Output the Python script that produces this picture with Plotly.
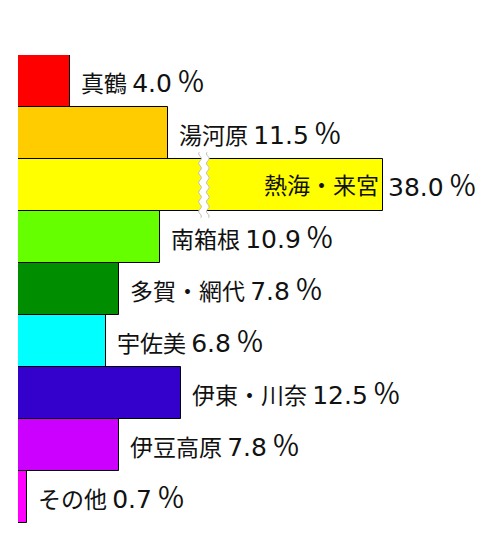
import numpy as np
import plotly.graph_objects as go

names = ["真鶴", "湯河原", "熱海・来宮", "南箱根", "多賀・網代", "宇佐美", "伊東・川奈", "伊豆高原", "その他"]
values = [4.0, 11.5, 38.0, 10.9, 7.8, 6.8, 12.5, 7.8, 0.7]
colors = ["#FF0000", "#FFCC00", "#FFFF00", "#66FF00", "#008E00", "#00FFFF", "#3300CC", "#CC00FF", "#FF00FF"]

# axis break (values beyond threshold are compressed by break_gap)
break_start = 14.3
break_gap = 9.9
break_threshold = 30.0

W, H = 500, 560
body = 8  # page body margin offset
ml, mr, mt, mb = 18 - body, 0, 55 - body, 37 + body
px_per_unit = 13.0
xmax = (W - ml - mr) / px_per_unit

display = [v - break_gap if v > break_threshold else v for v in values]
idx = list(range(len(values)))

fig = go.Figure()
fig.add_trace(go.Bar(
    x=display, y=idx, orientation="h",
    marker=dict(color=colors, line=dict(color="black", width=1)),
    width=1.0, hoverinfo="skip", showlegend=False,
))

font = dict(family="Noto Sans CJK JP", size=23, color="#111111")


def pct(v):
    return (f'<span style="font-family:DejaVu Sans;font-size:25px">{v:.1f}\u2009</span>'
            f'<span style="font-family:Noto Sans CJK JP;font-size:28px">％</span>')


for i, (n, v, d) in enumerate(zip(names, values, display)):
    if v > break_threshold:
        fig.add_annotation(x=d, y=i, text=n, showarrow=False, xanchor="right",
                           xshift=-2, yshift=1, font=font)
        fig.add_annotation(x=d, y=i, text=pct(v), showarrow=False, xanchor="left",
                           xshift=3, yshift=1, font=font)
        # break mark
        t = np.linspace(-0.63, 0.63, 40)
        amp = 0.11
        xl = break_start - 0.3 + amp * np.sin(t * 34)
        xr = break_start + 0.3 + amp * np.sin(t * 34)
        ys = i + t
        p = "M " + " L ".join(f"{a},{b}" for a, b in zip(xl, ys))
        p += " L " + " L ".join(f"{a},{b}" for a, b in zip(xr[::-1], ys[::-1])) + " Z"
        fig.add_shape(type="path", path=p, xref="x", yref="y",
                      fillcolor="white", line=dict(color="white", width=0))
        for xs in (xl, xr):
            pl = "M " + " L ".join(f"{a},{b}" for a, b in zip(xs, ys))
            fig.add_shape(type="path", path=pl, xref="x", yref="y",
                          line=dict(color="#BBBBBB", width=1))
    else:
        fig.add_annotation(x=d, y=i, text=f"{n} " + pct(v), showarrow=False,
                           xanchor="left", xshift=9, yshift=1, font=font)

fig.update_layout(
    width=W, height=H,
    margin=dict(l=ml, r=mr, t=mt, b=mb, pad=0),
    paper_bgcolor="white", plot_bgcolor="white",
    bargap=0,
    xaxis=dict(range=[0, xmax], visible=False, fixedrange=True),
    yaxis=dict(range=[len(values) - 0.5, -0.5], visible=False, fixedrange=True),
)
fig.write_html("out.html")
